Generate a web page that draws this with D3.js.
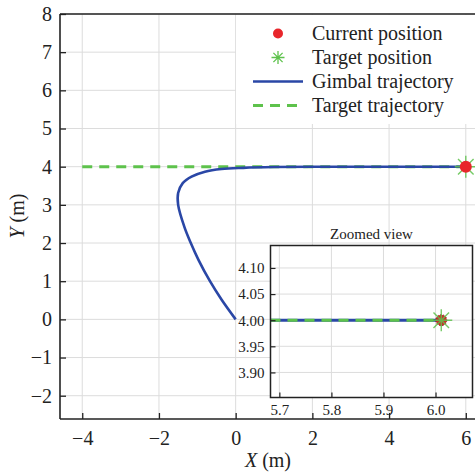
<!DOCTYPE html>
<html><head><meta charset="utf-8"><script src="https://cdn.jsdelivr.net/npm/d3@7"></script></head>
<body style="margin:0">
<script>
// gimbal path (m)
const gimbalX = [0, -0.37, -0.67, -0.97, -1.17, -1.34, -1.50, -1.50, -1.38, -1.15, -0.80, -0.37, 0.2, 1, 2, 3.5, 6];
const gimbalY = [0, 0.52, 1.0, 1.56, 2.0, 2.43, 3.0, 3.31, 3.57, 3.74, 3.87, 3.94, 3.97, 3.99, 4.0, 4.0, 4.0];
const targetX = [-4, 6];
const targetY = [4, 4];
const currentPos = [6, 4];
const targetPos = [6, 4];
// zoomed view
const zoomGimbalX = [5.683, 6.011];
const zoomGimbalY = [4.0, 4.0];
const zoomTargetX = [5.683, 6.011];
const zoomTargetY = [4.0, 4.0];
const zoomCurrent = [6.011, 4.0];
const zoomTarget = [6.011, 4.0];

const xTicks = [-4, -2, 0, 2, 4, 6];
const yTicks = [-2, -1, 0, 1, 2, 3, 4, 5, 6, 7, 8];
const zxTicks = [5.7, 5.8, 5.9, 6.0];
const zyTicks = [3.90, 3.95, 4.00, 4.05, 4.10];
const legendLabels = ["Current position", "Target position", "Gimbal trajectory", "Target trajectory"];

const width = 475, height = 473;
const blue = "#2a47a6", green = "#5ec24c", red = "#e8262b";
const ff = '"Liberation Serif", "Times New Roman"';

const svg = d3.select("body").append("svg").attr("width", width).attr("height", height);

const x = d3.scaleLinear().domain([-4.58, 6.24]).range([60, 475]);
const y = d3.scaleLinear().domain([-2.61, 8]).range([419, 14]);

svg.append("clipPath").attr("id", "mainClip")
  .append("rect").attr("x", 60).attr("y", 14).attr("width", 415).attr("height", 405);

// grid
const grid = svg.append("g").attr("stroke", "#dcdcdc").attr("stroke-width", 1);
grid.selectAll(".gx").data(xTicks).join("line")
  .attr("x1", d => x(d)).attr("x2", d => x(d)).attr("y1", 14).attr("y2", 419);
grid.selectAll(".gy").data(yTicks).join("line")
  .attr("y1", d => y(d)).attr("y2", d => y(d)).attr("x1", 60).attr("x2", 475);

function asterisk(r) {
  let p = "";
  for (let i = 0; i < 4; i++) {
    const a = i * Math.PI / 4;
    p += `M${-r * Math.cos(a)},${-r * Math.sin(a)}L${r * Math.cos(a)},${r * Math.sin(a)}`;
  }
  return p;
}

const line = d3.line().curve(d3.curveCatmullRom.alpha(0.5));

const plot = svg.append("g").attr("clip-path", "url(#mainClip)");
plot.append("path")
  .attr("d", line(targetX.map((d, i) => [x(d), y(targetY[i])])))
  .attr("fill", "none").attr("stroke", green).attr("stroke-width", 3)
  .attr("stroke-dasharray", "10,7");
plot.append("path")
  .attr("d", line(gimbalX.map((d, i) => [x(d), y(gimbalY[i])])))
  .attr("fill", "none").attr("stroke", blue).attr("stroke-width", 2.6);
plot.append("path")
  .attr("transform", `translate(${x(targetPos[0])},${y(targetPos[1])})`)
  .attr("d", asterisk(11)).attr("stroke", green).attr("stroke-width", 1.4).attr("opacity", 0.85);
plot.append("circle")
  .attr("cx", x(currentPos[0])).attr("cy", y(currentPos[1])).attr("r", 6).attr("fill", red);

// legend (white box, no border)
svg.append("rect").attr("x", 236).attr("y", 15).attr("width", 240).attr("height", 109).attr("fill", "#fff");
const lg = svg.append("g");
const rowY = i => 33.5 + i * 24;
lg.append("circle").attr("cx", 278).attr("cy", rowY(0)).attr("r", 5).attr("fill", red);
lg.append("path").attr("transform", `translate(278,${rowY(1)})`)
  .attr("d", asterisk(6.5)).attr("stroke", green).attr("stroke-width", 1.3);
lg.append("line").attr("x1", 253).attr("x2", 303).attr("y1", rowY(2)).attr("y2", rowY(2))
  .attr("stroke", blue).attr("stroke-width", 2.6);
lg.append("line").attr("x1", 253).attr("x2", 303).attr("y1", rowY(3)).attr("y2", rowY(3))
  .attr("stroke", green).attr("stroke-width", 3).attr("stroke-dasharray", "10,7");
lg.selectAll("text").data(legendLabels).join("text")
  .attr("x", 312).attr("y", (d, i) => rowY(i) + 6)
  .style("font-family", ff).style("font-size", "20px").style("fill", "#222").text(d => d);

// axes
const xAxis = svg.append("g").attr("transform", "translate(0,419)")
  .call(d3.axisBottom(x).tickValues(xTicks).tickSize(-6).tickPadding(12).tickFormat(d3.format("d")));
const yAxis = svg.append("g").attr("transform", "translate(60,0)")
  .call(d3.axisLeft(y).tickValues(yTicks).tickSize(-6).tickPadding(8).tickFormat(d3.format("d")));
[xAxis, yAxis].forEach(a => {
  a.attr("font-family", null).attr("font-size", null);
  a.select(".domain").remove();
  a.selectAll(".tick line").attr("stroke", "#222").attr("stroke-width", 1.3);
  a.selectAll(".tick text").style("font-family", ff).style("font-size", "20px").style("fill", "#222");
});
svg.append("line").attr("x1", 60).attr("x2", 476).attr("y1", 419).attr("y2", 419).attr("stroke", "#222").attr("stroke-width", 1.6);
svg.append("line").attr("x1", 60).attr("x2", 60).attr("y1", 14).attr("y2", 419).attr("stroke", "#222").attr("stroke-width", 1.6);
svg.append("line").attr("x1", 60).attr("x2", 476).attr("y1", 14).attr("y2", 14).attr("stroke", "#222").attr("stroke-width", 1.6);

// axis labels
const xl = svg.append("text").attr("x", 268).attr("y", 467).attr("text-anchor", "middle")
  .style("font-family", ff).style("font-size", "20px").style("fill", "#222");
xl.append("tspan").style("font-style", "italic").text("X");
xl.append("tspan").text(" (m)");
const yl = svg.append("text").attr("transform", "translate(24,216) rotate(-90)").attr("text-anchor", "middle")
  .style("font-family", ff).style("font-size", "20px").style("fill", "#222");
yl.append("tspan").style("font-style", "italic").text("Y");
yl.append("tspan").text(" (m)");

// inset
const ix = d3.scaleLinear().domain([5.683, 6.071]).range([270.5, 472.5]);
const iy = d3.scaleLinear().domain([3.852, 4.143]).range([397.5, 245.5]);
svg.append("rect").attr("x", 270.5).attr("y", 245.5).attr("width", 202).attr("height", 152).attr("fill", "#fff");
svg.append("clipPath").attr("id", "insetClip")
  .append("rect").attr("x", 270.5).attr("y", 245.5).attr("width", 202).attr("height", 152);
const ig = svg.append("g").attr("stroke", "#dcdcdc").attr("stroke-width", 1);
ig.selectAll(".gx").data(zxTicks).join("line")
  .attr("x1", d => ix(d)).attr("x2", d => ix(d)).attr("y1", 245.5).attr("y2", 397.5);
ig.selectAll(".gy").data(zyTicks).join("line")
  .attr("y1", d => iy(d)).attr("y2", d => iy(d)).attr("x1", 270.5).attr("x2", 472.5);

const inset = svg.append("g").attr("clip-path", "url(#insetClip)");
inset.append("path")
  .attr("d", d3.line()(zoomGimbalX.map((d, i) => [ix(d), iy(zoomGimbalY[i])])))
  .attr("stroke", blue).attr("stroke-width", 3).attr("fill", "none");
inset.append("path")
  .attr("d", d3.line()(zoomTargetX.map((d, i) => [ix(d), iy(zoomTargetY[i])])))
  .attr("stroke", green).attr("stroke-width", 3).attr("fill", "none").attr("stroke-dasharray", "10,7");
inset.append("circle")
  .attr("cx", ix(zoomCurrent[0])).attr("cy", iy(zoomCurrent[1])).attr("r", 5.5)
  .attr("fill", "#c9302c").attr("stroke", "#8a1f1a").attr("stroke-width", 1).attr("stroke-dasharray", "1.5,1.5");
inset.append("path")
  .attr("transform", `translate(${ix(zoomTarget[0])},${iy(zoomTarget[1])})`)
  .attr("d", asterisk(11)).attr("stroke", green).attr("stroke-width", 1.4).attr("opacity", 0.85);

const ixAxis = svg.append("g").attr("transform", "translate(0,397.5)")
  .call(d3.axisBottom(ix).tickValues(zxTicks).tickSize(-5).tickPadding(7).tickFormat(d3.format(".1f")));
const iyAxis = svg.append("g").attr("transform", "translate(270.5,0)")
  .call(d3.axisLeft(iy).tickValues(zyTicks).tickSize(-5).tickPadding(6).tickFormat(d3.format(".2f")));
[ixAxis, iyAxis].forEach(a => {
  a.attr("font-family", null).attr("font-size", null);
  a.select(".domain").remove();
  a.selectAll(".tick line").attr("stroke", "#222").attr("stroke-width", 1.2);
  a.selectAll(".tick text").style("font-family", ff).style("font-size", "15px").style("fill", "#222");
});
svg.append("rect").attr("x", 270.5).attr("y", 245.5).attr("width", 202).attr("height", 152)
  .attr("fill", "none").attr("stroke", "#222").attr("stroke-width", 1.5);
svg.append("text").attr("x", 371.5).attr("y", 239).attr("text-anchor", "middle")
  .style("font-family", ff).style("font-size", "15px").style("fill", "#222").text("Zoomed view");
</script>
</body>
</html>
